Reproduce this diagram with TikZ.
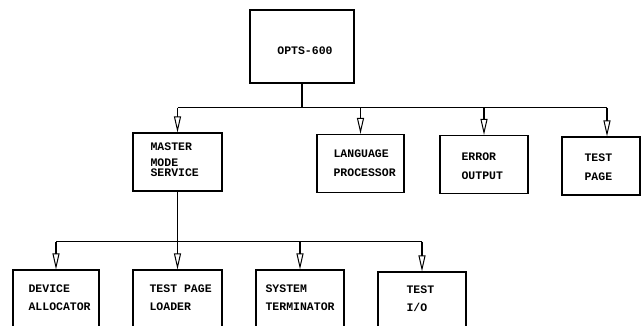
\documentclass[tikz,border=0pt]{standalone}
\usepackage{fontspec}
\setmonofont{Liberation Mono}
\usetikzlibrary{arrows.meta,positioning}
\tikzset{
  box/.style={draw,line width=1.1pt,inner sep=0pt,minimum height=58pt},
  lbl/.style={font=\ttfamily\bfseries\fontsize{11.5}{18.5}\selectfont,align=left,anchor=west,inner sep=0pt},
  hollow/.style={-{Triangle[open,length=16pt,width=7pt,line width=1pt]}},
}
\begin{document}
\begin{tikzpicture}[x=1pt,y=-1pt,line width=1.1pt]
	\useasboundingbox (0,0) rectangle (641,326);
	\clip (0,0) rectangle (641,326);
	% top
	\node[box,minimum width=104pt,minimum height=73pt] (opts) at (302,46.5) {};
	\node[lbl,anchor=center] (opts-t) at (305,51) {OPTS-600};
	% second level
	\node[box,minimum width=89pt] (master) at (177.5,162) {};
	\node[box,minimum width=87pt] (lang) at (360.5,163.5) {};
	\node[box,minimum width=88pt] (error) at (484,164.5) {};
	\node[box,minimum width=78pt] (page) at (601,166) {};
	\node[lbl] (master-t) at (150,160) {MASTER\\[-2.5pt]MODE\\[-8.5pt]SERVICE};
	\node[lbl] (lang-t) at (333,163) {LANGUAGE\\PROCESSOR};
	\node[lbl] (error-t) at (461,166) {ERROR\\OUTPUT};
	\node[lbl] (page-t) at (584,167) {TEST\\PAGE};
	% third level
	\node[box,minimum width=86pt] (device) at (56,299) {};
	\node[box,minimum width=89pt] (loader) at (177.5,299) {};
	\node[box,minimum width=88pt] (term) at (300,299) {};
	\node[box,minimum width=88pt] (tio) at (422,301) {};
	\node[lbl] (device-t) at (28,297.5) {DEVICE\\ALLOCATOR};
	\node[lbl] (loader-t) at (149,297.5) {TEST PAGE\\LOADER};
	\node[lbl] (term-t) at (265,297.5) {SYSTEM\\TERMINATOR};
	\node[lbl] (tio-t) at (406,298.5) {TEST\\I/O};
	% connectors
	\coordinate (bus1) at ([yshift=-24pt]opts.south);
	\coordinate (pagein) at ([xshift=6pt]page.north);
	\draw (opts.south) -- (bus1);
	\draw (master |- bus1) -- (pagein |- bus1);
	\foreach \b in {master,lang,error,pagein}\draw[hollow] (\b |- bus1) -- (\b);
	\coordinate (bus2) at ([yshift=-50pt]master.south);
	\draw (master.south) -- (bus2);
	\draw (device |- bus2) -- (tio |- bus2);
	\foreach \b in {device,loader,term,tio}\draw[hollow] (\b |- bus2) -- (\b);
\end{tikzpicture}
\end{document}
